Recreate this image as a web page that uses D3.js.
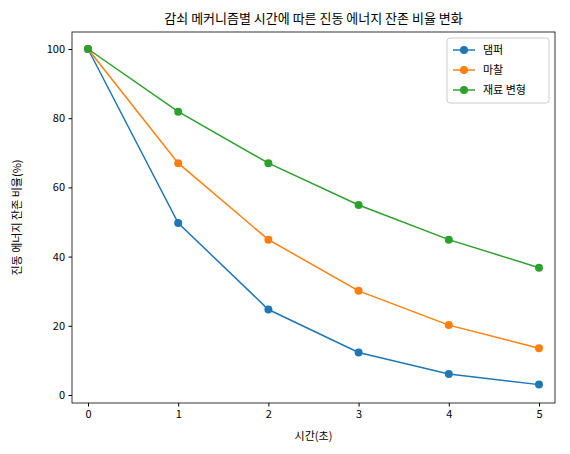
<!DOCTYPE html>
<html><head><meta charset="utf-8">
<script src="https://cdn.jsdelivr.net/npm/d3@7"></script>
<style>body{margin:0;background:#fff}text{font-family:"Noto Sans CJK KR","Noto Sans",sans-serif}</style>
</head><body><svg id="c" width="570" height="454"></svg>
<script>
const times=[0,1,2,3,4,5];
const seriesNames=["댐퍼","마찰","재료 변형"];
const damper=[100,49.7,24.7,12.3,6.1,3.0];
const friction=[100,67.0,44.9,30.1,20.2,13.5];
const material=[100,81.9,67.0,54.9,44.9,36.8];
const yTicks=[0,20,40,60,80,100];
const colors=["#1f77b4","#ff7f0e","#2ca02c"];
const svg=d3.select("#c");
const L=72,R=555,T=32,B=403;
const x=d3.scaleLinear().domain([0,5]).range([88,539]);
const y=d3.scaleLinear().domain([0,100]).range([395,49]);
const gx=svg.append("g").attr("transform",`translate(0,${B})`).call(d3.axisBottom(x).tickValues(times).tickFormat(d3.format("d")).tickSize(3.5).tickPadding(3.5));
const gy=svg.append("g").attr("transform",`translate(${L},0)`).call(d3.axisLeft(y).tickValues(yTicks).tickSize(3.5).tickPadding(3.5));
[gx,gy].forEach(g=>{g.select(".domain").remove();g.selectAll("text").attr("font-size",11).attr("fill","#000");g.selectAll("line").attr("stroke","#000");});
svg.append("rect").attr("x",L).attr("y",T).attr("width",R-L).attr("height",B-T).attr("fill","none").attr("stroke","#000").attr("stroke-width",0.8);
[damper,friction,material].forEach((d,i)=>{
 svg.append("path").datum(d).attr("fill","none").attr("stroke",colors[i]).attr("stroke-width",1.5)
  .attr("d",d3.line().x((v,j)=>x(times[j])).y(v=>y(v)));
 svg.selectAll(null).data(d).enter().append("circle").attr("cx",(v,j)=>x(times[j])).attr("cy",v=>y(v)).attr("r",4).attr("fill",colors[i]);
});
svg.append("text").attr("x",(L+R)/2).attr("y",23).attr("text-anchor","middle").attr("font-size",13).text("감쇠 메커니즘별 시간에 따른 진동 에너지 잔존 비율 변화");
svg.append("text").attr("x",(L+R)/2).attr("y",440).attr("text-anchor","middle").attr("font-size",11).text("시간(초)");
svg.append("text").attr("transform",`translate(21,${(T+B)/2}) rotate(-90)`).attr("text-anchor","middle").attr("font-size",11).text("진동 에너지 잔존 비율(%)");
const lg=svg.append("g").attr("transform","translate(447,38)");
lg.append("rect").attr("width",102).attr("height",65).attr("rx",3).attr("fill","#fff").attr("stroke","#ccc");
seriesNames.forEach((n,i)=>{
 const yy=12+i*20;
 lg.append("line").attr("x1",6).attr("x2",28).attr("y1",yy).attr("y2",yy).attr("stroke",colors[i]).attr("stroke-width",1.5);
 lg.append("circle").attr("cx",17).attr("cy",yy).attr("r",4).attr("fill",colors[i]);
 lg.append("text").attr("x",36).attr("y",yy+4).attr("font-size",11).text(n);
});
</script></body></html>
